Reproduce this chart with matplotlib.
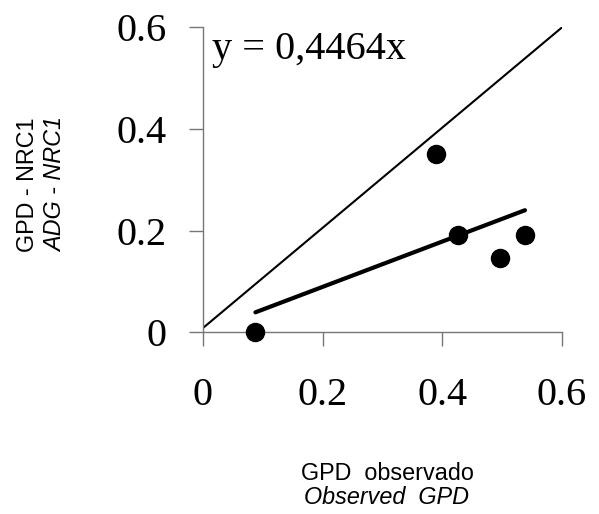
import matplotlib
matplotlib.use("Agg")
import matplotlib.pyplot as plt
import numpy as np

# Data
obs_gpd = [0.088, 0.389, 0.426, 0.496, 0.538]
nrc1_gpd = [0.0, 0.350, 0.191, 0.147, 0.191]
slope = 0.4464
ref_line_x = [0.0, 0.6]
ref_line_y = [0.008, 0.6]
x_ticks = [0, 0.2, 0.4, 0.6]
y_ticks = [0, 0.2, 0.4, 0.6]
x_tick_labels = ["0", "0.2", "0.4", "0.6"]
y_tick_labels = ["0", "0.2", "0.4", "0.6"]

fig = plt.figure(figsize=(5.99, 5.14), dpi=100)
ax = fig.add_axes([0.3384, 0.3535, 0.6, 0.5934])

serif = ["Liberation Serif", "DejaVu Serif"]
sans = ["Liberation Sans", "DejaVu Sans"]

ax.plot(ref_line_x, ref_line_y, color="black", lw=1.5, solid_capstyle="butt")
fx = np.array([min(obs_gpd), max(obs_gpd)])
ax.plot(fx, slope * fx, color="black", lw=3.0, solid_capstyle="round")
ax.plot(obs_gpd, nrc1_gpd, "o", color="black", markersize=13, clip_on=False, zorder=5)

ax.set_xlim(0, 0.6)
ax.set_ylim(0, 0.6)
ax.set_xticks(x_ticks)
ax.set_yticks(y_ticks)
ax.set_xticklabels(x_tick_labels, family=serif, fontsize=29)
ax.set_yticklabels(y_tick_labels, family=serif, fontsize=29)

for s in ["top", "right"]:
    ax.spines[s].set_visible(False)
for s in ["left", "bottom"]:
    ax.spines[s].set_color("#777777")
    ax.spines[s].set_linewidth(1.0)
ax.tick_params(axis="x", direction="out", length=10, width=1.0, color="#777777", pad=22)
ax.tick_params(axis="y", direction="out", length=10, width=1.0, color="#777777", pad=16)

ax.text(0.0155, 0.592, "y = 0,4464x", family=serif, fontsize=29, ha="left", va="top")

# axis titles
fig.text(387 / 599, 1 - 473 / 514, "GPD  observado", family=sans, fontsize=16.8, ha="center", va="center")
fig.text(387 / 599, 1 - 497 / 514, "Observed  GPD", family=sans, fontsize=16.8, style="italic", ha="center", va="center")
fig.text(28 / 599, 1 - 185 / 514, "GPD - NRC1", family=sans, fontsize=16.8, rotation=90, ha="center", va="center")
fig.text(56 / 599, 1 - 185 / 514, "ADG - NRC1", family=sans, fontsize=16.8, style="italic", rotation=90, ha="center", va="center")

fig.savefig("out.png", dpi=100)
